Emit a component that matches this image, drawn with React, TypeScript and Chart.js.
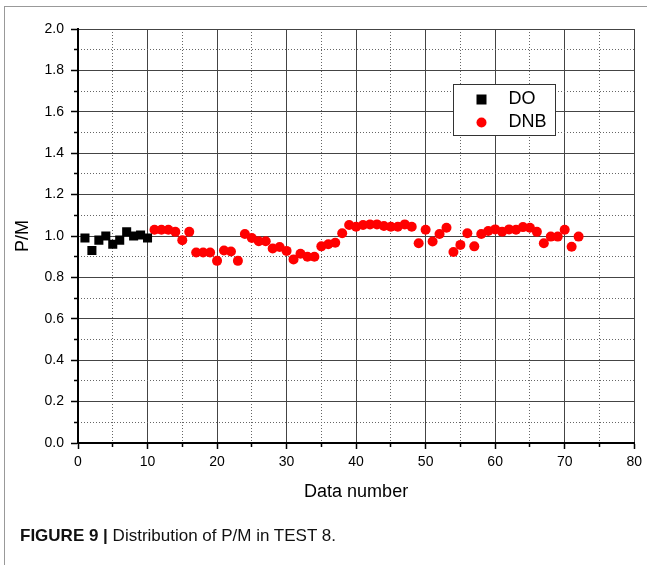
import React, { useEffect, useRef } from 'react';
import { Chart, registerables } from 'chart.js';

Chart.register(...registerables);

const FONT = '"Liberation Sans", Arial, Helvetica, sans-serif';

// DO series (data number, P/M)
const doNumbers = [1, 2, 3, 4, 5, 6, 7, 8, 9, 10];
const doRatios = [0.99, 0.93, 0.98, 1.0, 0.96, 0.98, 1.02, 1.0, 1.005, 0.99];

// DNB series (data number, P/M)
const dnbNumbers = [
  11, 12, 13, 14, 15, 16, 17, 18, 19, 20, 21, 22, 23, 24, 25, 26, 27, 28, 29, 30,
  31, 32, 33, 34, 35, 36, 37, 38, 39, 40, 41, 42, 43, 44, 45, 46, 47, 48, 49, 50,
  51, 52, 53, 54, 55, 56, 57, 58, 59, 60, 61, 62, 63, 64, 65, 66, 67, 68, 69, 70,
  71, 72,
];
const dnbRatios = [
  1.03, 1.03, 1.03, 1.02, 0.98, 1.02, 0.92, 0.92, 0.92, 0.88,
  0.93, 0.925, 0.88, 1.01, 0.99, 0.975, 0.975, 0.94, 0.947, 0.928,
  0.887, 0.914, 0.9, 0.9, 0.95, 0.96, 0.967, 1.013, 1.053, 1.045,
  1.053, 1.056, 1.056, 1.048, 1.045, 1.045, 1.056, 1.045, 0.965, 1.03,
  0.973, 1.01, 1.04, 0.923, 0.957, 1.013, 0.95, 1.01, 1.024, 1.032,
  1.021, 1.032, 1.03, 1.043, 1.04, 1.02, 0.965, 0.997, 0.997, 1.03,
  0.948, 0.997,
];

const xMin = 0, xMax = 80, xMajor = 10, xMinorStep = 5;
const yMin = 0, yMax = 2, yMajor = 0.2, yMinorStep = 0.1;

const seriesNames = ['DO', 'DNB'];
const xTitle = 'Data number';
const yTitle = 'P/M';

const boxLegend = {
  id: 'boxLegend',
  afterDraw(chart: any) {
    const { ctx, chartArea } = chart;
    const left = chartArea.left + 375.5;
    const top = chartArea.top + 55.5;
    const w = 102;
    const h = 51;
    ctx.save();
    ctx.fillStyle = '#ffffff';
    ctx.fillRect(left, top, w, h);
    ctx.strokeStyle = '#333333';
    ctx.lineWidth = 1;
    ctx.strokeRect(left, top, w, h);
    // DO marker
    ctx.fillStyle = '#000000';
    ctx.fillRect(left + 23, top + 10, 10, 10);
    // DNB marker
    ctx.fillStyle = '#ff0000';
    ctx.beginPath();
    ctx.arc(left + 28, top + 38, 5, 0, Math.PI * 2);
    ctx.fill();
    ctx.fillStyle = '#000000';
    ctx.font = '18px ' + FONT;
    ctx.textBaseline = 'middle';
    ctx.textAlign = 'left';
    ctx.fillText(seriesNames[0], left + 55, top + 15);
    ctx.fillText(seriesNames[1], left + 55, top + 38);
    ctx.restore();
  },
};

export default function App() {
  const ref = useRef<HTMLCanvasElement | null>(null);

  useEffect(() => {
    if (!ref.current) return;
    const isMajorX = (v: number) => Math.round(v) % xMajor === 0;
    const isMajorY = (v: number) => Math.round(v * 10) % 2 === 0;
    const chart = new Chart(ref.current, {
      type: 'scatter',
      data: {
        datasets: [
          {
            label: seriesNames[0],
            data: doNumbers.map((x, i) => ({ x, y: doRatios[i] })),
            pointStyle: 'rect',
            pointRadius: 6.4,
            backgroundColor: '#000000',
            borderColor: '#000000',
            borderWidth: 0,
          },
          {
            label: seriesNames[1],
            data: dnbNumbers.map((x, i) => ({ x, y: dnbRatios[i] })),
            pointStyle: 'circle',
            pointRadius: 5,
            backgroundColor: '#ff0000',
            borderColor: '#ff0000',
            borderWidth: 0,
          },
        ],
      },
      options: {
        animation: false,
        responsive: false,
        devicePixelRatio: 1,
        layout: { padding: { left: 0, top: 29, right: 11, bottom: 62 } },
        plugins: {
          legend: { display: false },
          tooltip: { enabled: false },
        },
        scales: {
          x: {
            type: 'linear',
            position: 'bottom',
            weight: 1,
            min: xMin,
            max: xMax,
            ticks: {
              stepSize: xMajor,
              color: '#000',
              font: { family: FONT, size: 14 },
              padding: 5,
              maxRotation: 0,
              autoSkip: false,
            },
            grid: { color: '#444', lineWidth: 1, tickLength: 6, tickColor: '#000', tickWidth: 1.5 },
            border: { color: '#000', width: 2 },
            title: {
              display: true,
              text: xTitle,
              color: '#000',
              font: { family: FONT, size: 18 },
              padding: { top: 0, bottom: 0 },
            },
            afterFit: (s: any) => { s.height = 60; },
          },
          xMinor: {
            type: 'linear',
            position: 'bottom',
            weight: 0,
            min: xMin,
            max: xMax,
            ticks: { display: false, stepSize: xMinorStep },
            grid: {
              color: (c: any) => (isMajorX(c.tick.value) ? 'rgba(0,0,0,0)' : '#666'),
              tickColor: (c: any) => (isMajorX(c.tick.value) ? 'rgba(0,0,0,0)' : '#000'),
              lineWidth: 1,
              tickLength: 4,
              tickWidth: 1.5,
            },
            border: { display: false, dash: [1, 2] },
            afterFit: (s: any) => { s.height = 0; },
          },
          y: {
            type: 'linear',
            position: 'left',
            weight: 1,
            min: yMin,
            max: yMax,
            ticks: {
              stepSize: yMajor,
              color: '#000',
              font: { family: FONT, size: 14 },
              padding: 7,
              callback: (v: any) => Number(v).toFixed(1),
            },
            grid: { color: '#444', lineWidth: 1, tickLength: 7, tickColor: '#000', tickWidth: 1.5 },
            border: { color: '#000', width: 2 },
            title: {
              display: true,
              text: yTitle,
              color: '#000',
              font: { family: FONT, size: 18 },
              padding: { top: 12, bottom: 0 },
            },
            afterFit: (s: any) => { s.width = 78; },
          },
          yMinor: {
            type: 'linear',
            position: 'left',
            weight: 0,
            min: yMin,
            max: yMax,
            ticks: { display: false, stepSize: yMinorStep },
            grid: {
              color: (c: any) => (isMajorY(c.tick.value) ? 'rgba(0,0,0,0)' : '#666'),
              tickColor: (c: any) => (isMajorY(c.tick.value) ? 'rgba(0,0,0,0)' : '#000'),
              lineWidth: 1,
              tickLength: 4,
              tickWidth: 1.5,
            },
            border: { display: false, dash: [1, 2] },
            afterFit: (s: any) => { s.width = 0; },
          },
        },
      } as any,
      plugins: [boxLegend],
    });
    return () => chart.destroy();
  }, []);

  return (
    <div
      style={{
        position: 'absolute',
        left: 0,
        top: 0,
        width: 647,
        height: 565,
        background: '#fff',
        overflow: 'hidden',
      }}
    >
      <div
        style={{
          position: 'absolute',
          left: 4,
          top: 6,
          width: 643,
          height: 559,
          borderTop: '1px solid #999',
          borderLeft: '1px solid #999',
        }}
      />
      <canvas
        ref={ref}
        width={647}
        height={565}
        style={{ position: 'absolute', left: 0, top: 0, width: 647, height: 565 }}
      />
      <div
        style={{
          position: 'absolute',
          left: 20,
          top: 525,
          fontFamily: FONT,
          fontSize: 17,
          lineHeight: '22px',
          color: '#111',
          whiteSpace: 'nowrap',
        }}
      >
        <b>FIGURE 9 |</b> Distribution of P/M in TEST 8.
      </div>
    </div>
  );
}
